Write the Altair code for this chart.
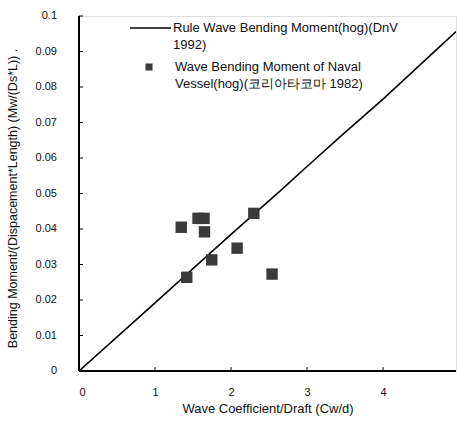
import altair as alt
import pandas as pd

# Rule wave bending moment line
rule_x = [0.0, 1.0, 2.0, 2.64, 3.0, 3.43, 4.0, 4.96]
rule_y = [0.0, 0.0192, 0.0385, 0.0506, 0.0576, 0.0659, 0.0766, 0.0956]

# Naval vessel measurements
pt_x = [1.345, 1.566, 1.645, 1.651, 1.747, 1.418, 2.08, 2.30, 2.54]
pt_y = [0.0405, 0.0430, 0.0430, 0.0392, 0.0313, 0.0264, 0.0346, 0.0444, 0.0273]

y_ticks = [0.01, 0.02, 0.03, 0.04, 0.05, 0.06, 0.07, 0.08, 0.09, 0.1]
y_labels = ["0", "0.01", "0.02", "0.03", "0.04", "0.05", "0.06", "0.07", "0.08", "0.09", "0.1"]
y_label_vals = [0.0] + y_ticks
x_ticks = [1, 2, 3, 4]

legend_rule = "Rule Wave Bending Moment(hog)(DnV"
legend_rule2 = "1992)"
legend_pts = "Wave Bending Moment of Naval"
legend_pts2 = "Vessel(hog)(코리아타코마 1982)"

FONT = "Liberation Sans"
W, H = 377, 355
XMAX = 4.96

xscale = alt.Scale(domain=[0, XMAX], nice=False, zero=True)
yscale = alt.Scale(domain=[0, 0.1], nice=False)

line_df = pd.DataFrame({"x": rule_x, "y": rule_y})
pts_df = pd.DataFrame({"x": pt_x, "y": pt_y})
yt_df = pd.DataFrame({"y": y_ticks})
yl_df = pd.DataFrame({"y": y_label_vals, "t": y_labels})
xt_df = pd.DataFrame({"x": x_ticks})

xaxis = alt.Axis(
    values=[0, 1, 2, 3, 4], ticks=False, grid=False, domain=False, format="d",
    labelFont=FONT, labelFontSize=11, labelColor="#111", labelPadding=15,
    labelOverlap=False,
    title="Wave Coefficient/Draft (Cw/d)", titleFont=FONT, titleFontSize=13,
    titleFontWeight="normal", titleColor="#111", titleY=37, titleBaseline="middle",
)
yaxis = alt.Axis(
    ticks=False, grid=False, domain=False, labels=False,
    title="Bending Moment/(Dispacement*Length) (Mw/(Ds*L))  .",
    titleFont=FONT, titleFontSize=12.5, titleFontWeight="normal", titleColor="#111",
    titleX=-67, titleY=182, titleAngle=-90, titleAlign="center", titleBaseline="middle",
)

line = alt.Chart(line_df).mark_line(color="black", strokeWidth=1.6, clip=True).encode(
    x=alt.X("x:Q", scale=xscale, axis=xaxis),
    y=alt.Y("y:Q", scale=yscale, axis=yaxis),
)
pts = alt.Chart(pts_df).mark_square(size=130, color="#3a3a3a", opacity=1).encode(
    x=alt.X("x:Q", scale=xscale),
    y=alt.Y("y:Q", scale=yscale),
)
ytk = alt.Chart(yt_df).mark_rule(color="black", strokeWidth=1).encode(
    y=alt.Y("y:Q", scale=yscale), x=alt.value(0), x2=alt.value(4)
)
ylab = alt.Chart(yl_df).mark_text(
    align="right", baseline="middle", font=FONT, fontSize=11, color="#111"
).encode(y=alt.Y("y:Q", scale=yscale), x=alt.value(-22), text="t:N")
xtk = alt.Chart(xt_df).mark_rule(color="black", strokeWidth=1).encode(
    x=alt.X("x:Q", scale=xscale), y=alt.value(H), y2=alt.value(H - 4)
)

# axis lines (thicker left/bottom)
axes_df = pd.DataFrame({"k": [0]})
left_ax = alt.Chart(axes_df).mark_rule(color="black", strokeWidth=2).encode(
    x=alt.value(0), y=alt.value(0), y2=alt.value(H)
)
bottom_ax = alt.Chart(axes_df).mark_rule(color="black", strokeWidth=2).encode(
    x=alt.value(0), x2=alt.value(W), y=alt.value(H)
)

# manual legend
leg_line = alt.Chart(axes_df).mark_rule(color="black", strokeWidth=1.6).encode(
    x=alt.value(51), x2=alt.value(92), y=alt.value(12)
)
leg_sq = alt.Chart(axes_df).mark_square(size=50, color="#3a3a3a", opacity=1).encode(
    x=alt.value(70), y=alt.value(51)
)
def txt(s, x, y):
    return alt.Chart(pd.DataFrame({"t": [s]})).mark_text(
        align="left", baseline="middle", font=FONT, fontSize=13, color="#111"
    ).encode(text="t:N", x=alt.value(x), y=alt.value(y))

legend = [
    txt(legend_rule, 94, 12), txt(legend_rule2, 94, 29),
    txt(legend_pts, 96, 51), txt(legend_pts2, 96, 68),
]

chart = alt.layer(
    line, pts, ytk, ylab, xtk, left_ax, bottom_ax, leg_line, leg_sq, *legend
).properties(
    width=W, height=H,
    autosize=alt.AutoSizeParams(type="none"),
    padding={"left": 79, "top": 16, "right": 1, "bottom": 50},
).configure_view(stroke="black", strokeWidth=1.5).configure(background="white")

chart.save("out.html", embed_options={"renderer": "svg", "actions": False})
